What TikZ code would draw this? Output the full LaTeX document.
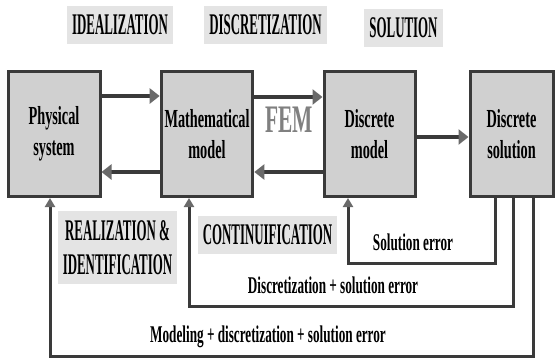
\documentclass[tikz,border=0pt]{standalone}
\usepackage{fontspec}
\setmainfont{Liberation Serif}[FakeStretch=0.55]
\newfontfamily\capfont{Liberation Serif}[FakeStretch=0.43]
\usepackage{xcolor}
\usepackage{tikz}
\usetikzlibrary{arrows.meta,positioning}

\definecolor{boxfill}{HTML}{D0D0D0}
\definecolor{tagfill}{HTML}{E4E4E4}
\definecolor{linedark}{HTML}{3A3A3A}
\definecolor{tipgray}{HTML}{6A6A6A}

\begin{document}
\begin{tikzpicture}[x=1pt, y=-1pt,
  modelbox/.style={draw=linedark, line width=3pt, fill=boxfill, align=center, minimum height=125pt,
    font=\fontsize{26}{31}\selectfont\bfseries},
  tag/.style={fill=tagfill, align=center, inner xsep=5pt, inner ysep=9pt,
    font=\capfont\fontsize{30}{34}\selectfont\bfseries},
  note/.style={align=center, font=\fontsize{24}{28}\selectfont\bfseries},
  edge/.style={draw=linedark, line width=4pt, -{Triangle[length=10pt, width=15pt, color=tipgray]}},
  back/.style={draw=linedark, line width=3pt, -{Triangle[length=9pt, width=10pt, color=tipgray]}}
]
\useasboundingbox (0,0) rectangle (559,362);

% the four stages
\node[modelbox, minimum width=92pt] (phys) at (54,134) {Physical\\system};
\node[modelbox, minimum width=90pt] (math) at (207,134) {Mathematical\\model};
\node[modelbox, minimum width=91pt] (dmodel) at (369.5,134) {Discrete\\model};
\node[modelbox, minimum width=83pt] (dsol) at (511.5,134) {Discrete\\solution};

% stage names
\node[tag] (ideal) at (120,25) {IDEALIZATION};
\node[tag] (discr) at (265.5,25) {DISCRETIZATION};
\node[tag] (solve) at (403.5,28) {SOLUTION};
\node[tag] (real) at (117.5,247.5) {REALIZATION \&\\IDENTIFICATION};
\node[tag] (cont) at (267.5,235) {CONTINUIFICATION};
\node[font=\fontsize{39}{39}\selectfont\bfseries, text=gray] (fem) at (289,120) {FEM};

% forward and backward
\draw[edge] ([yshift=38pt]phys.east) -- ([yshift=38pt]phys.east -| math.west);
\draw[edge] ([yshift=37pt]math.east) -- ([yshift=37pt]math.east -| dmodel.west);
\draw[edge] ([yshift=-3pt]dmodel.east) -- ([yshift=-3pt]dmodel.east -| dsol.west);
\draw[edge] ([yshift=-38pt]dmodel.west) -- ([yshift=-38pt]dmodel.west -| math.east);
\draw[edge] ([yshift=-38pt]math.west) -- ([yshift=-38pt]math.west -| phys.east);

% error loops
\draw[back] ([xshift=-16.5pt]dsol.south) -- ++(0,65) -| ([xshift=-21.5pt]dmodel.south);
\draw[back] ([xshift=1.5pt]dsol.south) -- ++(0,108) -| ([xshift=-18pt]math.south);
\draw[back] ([xshift=21.5pt]dsol.south) -- ++(0,158) -| ([xshift=-4pt]phys.south);

\node[note] (solerr) at (413,242) {Solution error};
\node[note] (discerr) at (333,285) {Discretization + solution error};
\node[note] (moderr) at (268,337) {Modeling + discretization + solution error};
\end{tikzpicture}
\end{document}
